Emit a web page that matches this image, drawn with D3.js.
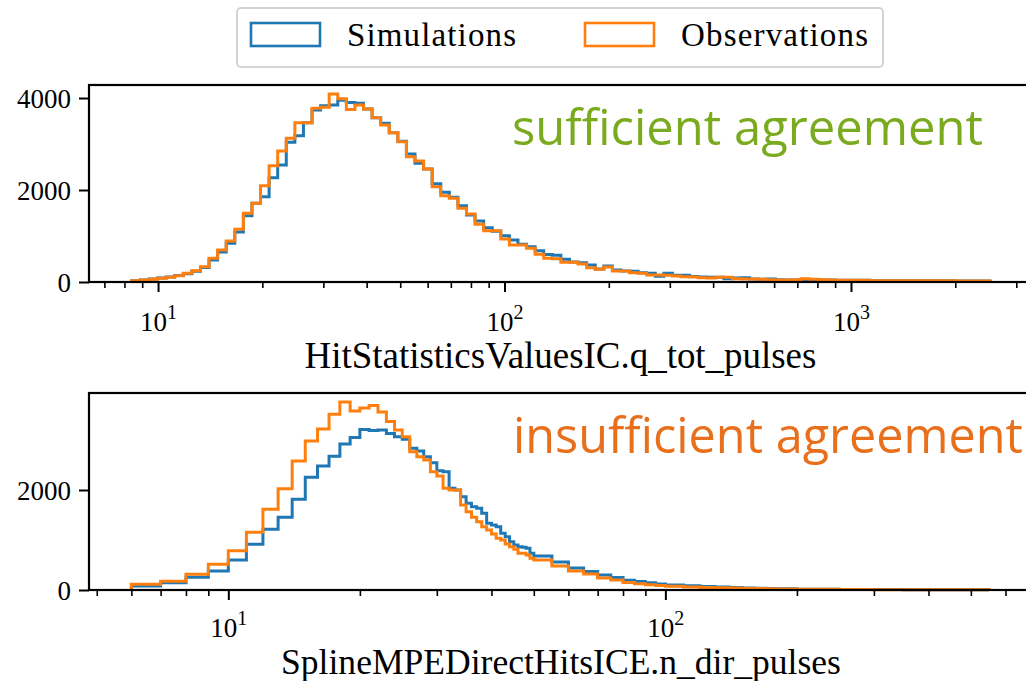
<!DOCTYPE html>
<html><head><meta charset="utf-8">
<script src="https://cdn.jsdelivr.net/npm/d3@7"></script>
<style>body{margin:0;background:#fff;overflow:hidden} svg{display:block}</style>
</head><body>
<svg id="chart" width="1026" height="681"></svg>
<script>
// ---------------- data ----------------
const seriesNames = ["Simulations", "Observations"];

// top panel: 100 log-spaced bins
const topRange = [8.40, 2518];
const topBinCount = 100;
const topSim = [25,45,65,88,108,140,180,235,315,480,650,840,1085,1440,1710,1855,2268,2543,3036,3181,
  3464,3739,3833,3848,3950,3900,3884,3761,3572,3449,3246,3060,2783,2580,2457,2138,1949,1840,1659,1457,
  1326,1181,1101,1007,913,819,768,681,600,580,493,435,420,370,283,348,261,239,232,203,
  188,125,188,145,145,120,109,101,101,72,87,94,65,58,65,51,43,43,51,51,
  43,43,36,36,36,36,29,29,29,29,29,25,25,25,25,25,22,22,22,22];
const topObs = [29,43,58,80,101,138,188,246,333,514,696,891,1145,1493,1710,2094,2529,2848,3123,3464,
  3464,3775,3800,4085,3985,3750,3848,3761,3572,3413,3246,3051,2725,2630,2457,2072,1877,1819,1601,1478,
  1254,1116,1116,935,804,804,732,601,514,507,428,427,391,312,275,326,239,239,203,188,
  152,152,148,130,116,109,94,87,101,101,72,65,65,58,51,43,43,51,72,58,
  51,43,36,36,36,36,29,29,29,29,29,25,25,25,25,25,22,22,22,22];

// bottom panel: integer-valued variable, bin edges
const bottomEdges = [6,7,8,9,10,11,12,13,14,15,16,17,18,19,20,21,22,23,24,25,26,27,28,29,30,
  31,32,33,34,35,36,37,38,39,40,41,42,43,44,45,46,47,48,49,50,
  55,60,65,70,75,80,85,90,95,100,110,120,130,140,150,160,170,180,190,200,
  250,300,350,400,450,500,550];
const bottomSim = [80,147,253,380,600,913,1213,1453,1813,2253,2480,2673,2920,3050,3210,3190,3200,3130,3067,3013,
  2833,2780,2667,2547,2387,2367,2033,2000,1867,1733,1667,1633,1533,1333,1300,1267,1133,1067,967,900,
  867,853,833,733,
  680,560,440,370,300,250,195,170,145,120,
  100,85,70,60,50,42,36,31,27,23,
  17,12,8,6,4,3,3];
const bottomObs = [113,173,313,513,787,1153,1613,2027,2580,2980,3220,3513,3760,3580,3640,3690,3560,3370,3200,3067,
  2767,2667,2600,2367,2280,2033,2000,2000,1700,1567,1453,1367,1267,1200,1120,1033,1000,920,867,813,
  733,733,700,633,
  600,480,380,320,240,200,150,125,105,90,
  75,62,52,44,38,32,28,24,21,18,
  14,10,7,5,4,3,3];

const topXLabel = "HitStatisticsValuesIC.q_tot_pulses";
const bottomXLabel = "SplineMPEDirectHitsICE.n_dir_pulses";
const topNote = "sufficient agreement";
const bottomNote = "insufficient agreement";
const topYTicks = [0, 2000, 4000];
const bottomYTicks = [0, 2000];
const topXMajor = [10, 100, 1000];
const bottomXMajor = [10, 100];

// ---------------- drawing ----------------
const colors = ["#1f77b4", "#ff7f0e"];
const serif = "'Liberation Serif', 'DejaVu Serif', serif";
const svg = d3.select("#chart");

const topEdges = d3.range(topBinCount + 1).map(i =>
  Math.pow(10, Math.log10(topRange[0]) + i * (Math.log10(topRange[1]) - Math.log10(topRange[0])) / topBinCount));

function fitWidth(sel, target) {
  const w = sel.node().getComputedTextLength();
  const fs = parseFloat(sel.attr("font-size"));
  sel.attr("font-size", fs * target / w);
}
function spreadWidth(sel, target) {
  sel.attr("textLength", target).attr("lengthAdjust", "spacing");
}

function minorTicks(domain) {
  const out = [];
  for (let e = Math.floor(Math.log10(domain[0])); e <= Math.ceil(Math.log10(domain[1])); e++) {
    for (let m = 2; m <= 9; m++) {
      const v = m * Math.pow(10, e);
      if (v >= domain[0] && v <= domain[1]) out.push(v);
    }
  }
  return out;
}

function panel(cfg) {
  const g = svg.append("g");
  const x = d3.scaleLog().domain(cfg.xDomain).range([cfg.left, cfg.right]);
  const y = d3.scaleLinear().domain([0, cfg.yMax]).range([cfg.bottom, cfg.top]);

  // histograms (step outlines)
  [cfg.sim, cfg.obs].forEach((vals, si) => {
    const pts = [[cfg.edges[0], 0]];
    vals.forEach((v, i) => { pts.push([cfg.edges[i], v]); pts.push([cfg.edges[i + 1], v]); });
    pts.push([cfg.edges[cfg.edges.length - 1], 0]);
    g.append("path")
      .attr("d", d3.line().x(d => x(d[0])).y(d => y(d[1]))(pts))
      .attr("fill", "none").attr("stroke", colors[si])
      .attr("stroke-width", 3).attr("stroke-linejoin", "miter");
  });

  // note text
  const note = g.append("text").text(cfg.note)
    .attr("x", cfg.noteX).attr("y", cfg.noteY)
    .attr("font-family", "'Open Sans', 'Noto Sans', sans-serif")
    .attr("font-size", 40).attr("fill", cfg.noteColor);
  fitWidth(note, cfg.noteW);

  // x axis major
  const xMaj = g.append("g").attr("transform", `translate(0,${cfg.bottom})`)
    .call(d3.axisBottom(x).tickValues(cfg.xMajor).tickSize(10).tickPadding(10)
      .tickFormat(() => ""));
  xMaj.select(".domain").remove();
  xMaj.selectAll("line").attr("stroke", "#000").attr("stroke-width", 2);
  xMaj.selectAll(".tick text").each(function (d) {
    const t = d3.select(this);
    t.attr("font-family", serif).attr("font-size", 27).attr("fill", "#000")
      .attr("y", cfg.tickLabelY - cfg.bottom).attr("dy", 0);
    t.append("tspan").text("10");
    t.append("tspan").text(Math.round(Math.log10(d)))
      .attr("font-size", 20).attr("dy", -12);
  });
  // x axis minor
  const xMin = g.append("g").attr("transform", `translate(0,${cfg.bottom})`)
    .call(d3.axisBottom(x).tickValues(minorTicks(cfg.xDomain)).tickSize(6).tickFormat(() => ""));
  xMin.select(".domain").remove();
  xMin.selectAll("line").attr("stroke", "#000").attr("stroke-width", 1.6);

  // y axis
  const yAx = g.append("g").attr("transform", `translate(${cfg.left},0)`)
    .call(d3.axisLeft(y).tickValues(cfg.yTicks).tickSize(10).tickPadding(8).tickFormat(d3.format("d")));
  yAx.select(".domain").remove();
  yAx.selectAll("line").attr("stroke", "#000").attr("stroke-width", 2);
  yAx.selectAll("text").attr("font-family", serif).attr("font-size", 27).attr("fill", "#000")
    .attr("dy", "0.34em");

  // spines
  g.append("rect").attr("x", cfg.left).attr("y", cfg.top)
    .attr("width", cfg.right - cfg.left).attr("height", cfg.bottom - cfg.top)
    .attr("fill", "none").attr("stroke", "#000").attr("stroke-width", 2.2);

  // x label
  const xl = g.append("text").text(cfg.xLabel)
    .attr("x", cfg.xLabelCx).attr("y", cfg.xLabelY).attr("text-anchor", "middle")
    .attr("font-family", serif).attr("font-size", 29).attr("fill", "#000");
  fitWidth(xl, cfg.xLabelW);
}

panel({
  left: 89, right: 1032, top: 85, bottom: 282,
  xDomain: [6.32, 3330], yMax: 4283,
  edges: topEdges, sim: topSim, obs: topObs,
  yTicks: topYTicks, xMajor: topXMajor, tickLabelY: 331,
  xLabel: topXLabel, xLabelCx: 560.5, xLabelY: 368, xLabelW: 512,
  note: topNote, noteX: 512, noteY: 145, noteW: 471, noteColor: "#7aaa1e"
});
panel({
  left: 89, right: 1032, top: 393, bottom: 590,
  xDomain: [4.80, 690], yMax: 3940,
  edges: bottomEdges, sim: bottomSim, obs: bottomObs,
  yTicks: bottomYTicks, xMajor: bottomXMajor, tickLabelY: 637,
  xLabel: bottomXLabel, xLabelCx: 561, xLabelY: 674, xLabelW: 560,
  note: bottomNote, noteX: 513, noteY: 453, noteW: 510, noteColor: "#e8701c"
});

// legend
const leg = svg.append("g");
leg.append("rect").attr("x", 237).attr("y", 8).attr("width", 646).attr("height", 59)
  .attr("rx", 4).attr("fill", "#fff").attr("stroke", "#d4d4d4").attr("stroke-width", 2);
const legItems = [{x: 251, tx: 347, tw: 169}, {x: 585, tx: 681, tw: 187}];
legItems.forEach((it, i) => {
  leg.append("rect").attr("x", it.x).attr("y", 23).attr("width", 69).attr("height", 23)
    .attr("fill", "none").attr("stroke", colors[i]).attr("stroke-width", 2.6);
  const t = leg.append("text").text(seriesNames[i]).attr("x", it.tx).attr("y", 46)
    .attr("font-family", serif).attr("font-size", 33).attr("fill", "#000");
  spreadWidth(t, it.tw);
});
</script>
</body></html>
